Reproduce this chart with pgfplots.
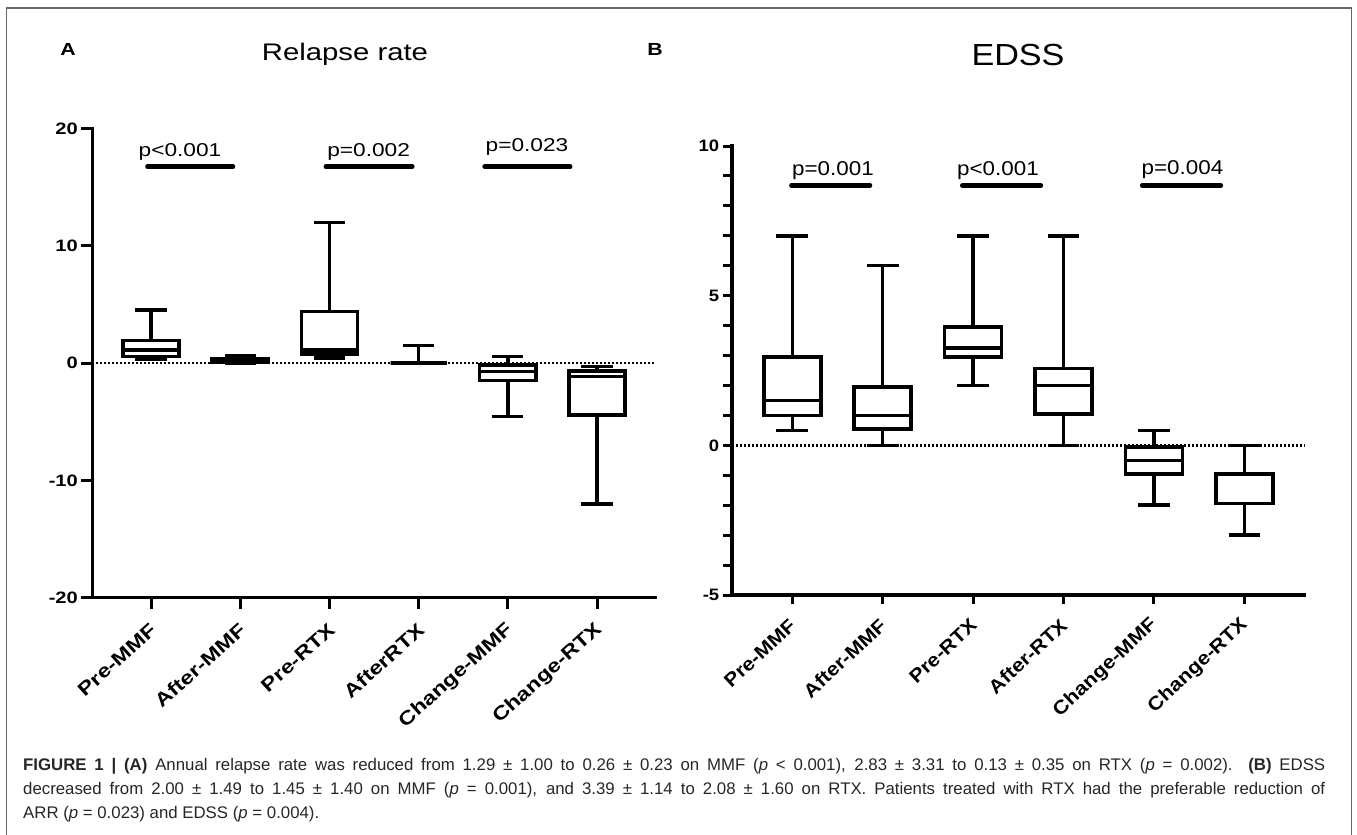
\documentclass[border=0pt]{standalone}
\usepackage{fontspec}
\setmainfont{Liberation Sans}
\newfontfamily\fa{Liberation Sans}[FakeStretch=1.22]
\newfontfamily\fb{Liberation Sans}[FakeStretch=1.12]
\usepackage{pgfplots}
\pgfplotsset{compat=1.18}
\usepgfplotslibrary{statistics}

\pgfplotsset{
  panel/.style={
    scale only axis, anchor=south west, clip=false,
    axis lines=left, axis line style={-, black, line width=3.5pt, line cap=rect},
    tick align=outside, tick style={black, line width=3pt},
    major tick length=11pt, minor tick length=9pt,
    xtick={0,...,5}, xticklabel shift=16pt,
    boxplot/draw direction=y,
  },
  bx/.style={black, solid, line width=3.5pt, boxplot prepared={box extend=0.63, whisker extend=0.35, #1}},
  pbar/.style={black, line width=4.5pt, line cap=round},
  zero/.style={black, line width=2.4pt, dash pattern=on 2pt off 2pt},
}

\begin{document}
\begin{tikzpicture}
\useasboundingbox (0,0) rectangle (1357pt,-835pt);
\draw[black!60, line width=1.5pt] (6.5pt,-835pt) -- (6.5pt,-8pt) -- (1351.5pt,-8pt) -- (1351.5pt,-835pt);

% panel A
\node[anchor=base, font={\fa\bfseries\fontsize{17.5}{18}\selectfont}] at (68pt,-55pt) {A};
\node[anchor=base, font={\fa\fontsize{24}{26}\selectfont}] at (345pt,-60pt) {Relapse rate};
\begin{axis}[panel, at={(92.4pt,-597.7pt)}, width=562.4pt, height=469pt,
  xmin=-0.657, xmax=5.648, ymin=-20, ymax=20,
  ytick={-20,-10,0,10,20}, yticklabels={-20,-10,0,10,20},
  xticklabels={Pre-MMF,After-MMF,Pre-RTX,AfterRTX,Change-MMF,Change-RTX},
  yticklabel style={font={\fa\bfseries\fontsize{16.5}{18}\selectfont}},
  xticklabel style={font={\fa\bfseries\fontsize{19}{20}\selectfont}, xshift=5pt, rotate=42, anchor=east},
]
\addplot[zero] coordinates {(-0.657,0) (5.648,0)};
\addplot[bx={draw position=0, lower whisker=0.34, lower quartile=0.57, median=1.14, upper quartile=1.93, upper whisker=4.55}] coordinates {};
\addplot[bx={draw position=1, lower whisker=0, lower quartile=0.1, median=0.25, upper quartile=0.4, upper whisker=0.6}] coordinates {};
\addplot[bx={draw position=2, lower whisker=0.43, lower quartile=0.77, median=1.14, upper quartile=4.4, upper whisker=12}] coordinates {};
\addplot[bx={draw position=3, lower whisker=0, lower quartile=0, median=0, upper quartile=0, upper whisker=1.5}] coordinates {};
\addplot[bx={draw position=4, lower whisker=-4.55, lower quartile=-1.48, median=-0.71, upper quartile=-0.14, upper whisker=0.57}] coordinates {};
\addplot[bx={draw position=5, lower whisker=-12, lower quartile=-4.4, median=-1.14, upper quartile=-0.65, upper whisker=-0.28}] coordinates {};
% significance bars
\addplot[pbar] coordinates {(-0.04,16.76) (0.92,16.76)};
\addplot[pbar] coordinates {(1.96,16.76) (2.93,16.76)};
\addplot[pbar] coordinates {(3.74,16.76) (4.70,16.76)};
\node[anchor=base, font={\fa\fontsize{18.6}{20}\selectfont}] at (axis cs:0.325,17.6) {p<0.001};
\node[anchor=base, font={\fa\fontsize{18.6}{20}\selectfont}] at (axis cs:2.44,17.6) {p=0.002};
\node[anchor=base, font={\fa\fontsize{18.6}{20}\selectfont}] at (axis cs:4.215,18.05) {p=0.023};
\end{axis}

% panel B
\node[anchor=base, font={\fa\bfseries\fontsize{17.5}{18}\selectfont}] at (655pt,-55pt) {B};
\node[anchor=base, font={\fb\fontsize{30.5}{32}\selectfont}] at (1018pt,-65pt) {EDSS};
\begin{axis}[panel, at={(731.8pt,-595pt)}, width=572.2pt, height=449pt,
  xmin=-0.669, xmax=5.66, ymin=-5, ymax=10,
  ytick={-5,0,5,10}, yticklabels={-5,0,5,10}, minor ytick={-4,...,9},
  major tick length=9pt,
  xticklabels={Pre-MMF,After-MMF,Pre-RTX,After-RTX,Change-MMF,Change-RTX},
  yticklabel style={font={\fb\bfseries\fontsize{16.5}{18}\selectfont}},
  xticklabel style={font={\fb\bfseries\fontsize{19}{20}\selectfont}, xshift=3pt, rotate=43, anchor=east},
]
\addplot[zero] coordinates {(-0.669,0) (5.66,0)};
\addplot[bx={draw position=0, lower whisker=0.5, lower quartile=1, median=1.5, upper quartile=2.95, upper whisker=7}] coordinates {};
\addplot[bx={draw position=1, lower whisker=0, lower quartile=0.55, median=1, upper quartile=1.95, upper whisker=6}] coordinates {};
\addplot[bx={draw position=2, lower whisker=2, lower quartile=2.95, median=3.25, upper quartile=3.95, upper whisker=7}] coordinates {};
\addplot[bx={draw position=3, lower whisker=0, lower quartile=1.05, median=2, upper quartile=2.57, upper whisker=7}] coordinates {};
\addplot[bx={draw position=4, lower whisker=-2, lower quartile=-0.95, median=-0.5, upper quartile=-0.05, upper whisker=0.5}] coordinates {};
\addplot[bx={draw position=5, lower whisker=-3, lower quartile=-1.95, median=-0.95, upper quartile=-0.95, upper whisker=0}] coordinates {};
\addplot[pbar] coordinates {(-0.01,8.68) (0.86,8.68)};
\addplot[pbar] coordinates {(1.88,8.68) (2.75,8.68)};
\addplot[pbar] coordinates {(3.87,8.68) (4.74,8.68)};
\node[anchor=base, font={\fb\fontsize{20}{22}\selectfont}] at (axis cs:0.45,9.0) {p=0.001};
\node[anchor=base, font={\fb\fontsize{20}{22}\selectfont}] at (axis cs:2.275,9.0) {p<0.001};
\node[anchor=base, font={\fb\fontsize{20}{22}\selectfont}] at (axis cs:4.316,9.06) {p=0.004};
\end{axis}

% caption
\node[anchor=base west, inner sep=0pt, text=black!85] at (23pt,-770pt) {\parbox[t]{1302pt}{\fontsize{16.8}{24}\selectfont
\textbf{FIGURE 1 | (A)} Annual relapse rate was reduced from 1.29 ± 1.00 to 0.26 ± 0.23 on MMF (\textit{p} < 0.001), 2.83 ± 3.31 to 0.13 ± 0.35 on RTX (\textit{p} = 0.002). \textbf{(B)} EDSS\linebreak
decreased from 2.00 ± 1.49 to 1.45 ± 1.40 on MMF (\textit{p} = 0.001), and 3.39 ± 1.14 to 2.08 ± 1.60 on RTX. Patients treated with RTX had the preferable reduction of\linebreak
ARR (\textit{p} = 0.023) and EDSS (\textit{p} = 0.004).}};
\end{tikzpicture}
\end{document}
